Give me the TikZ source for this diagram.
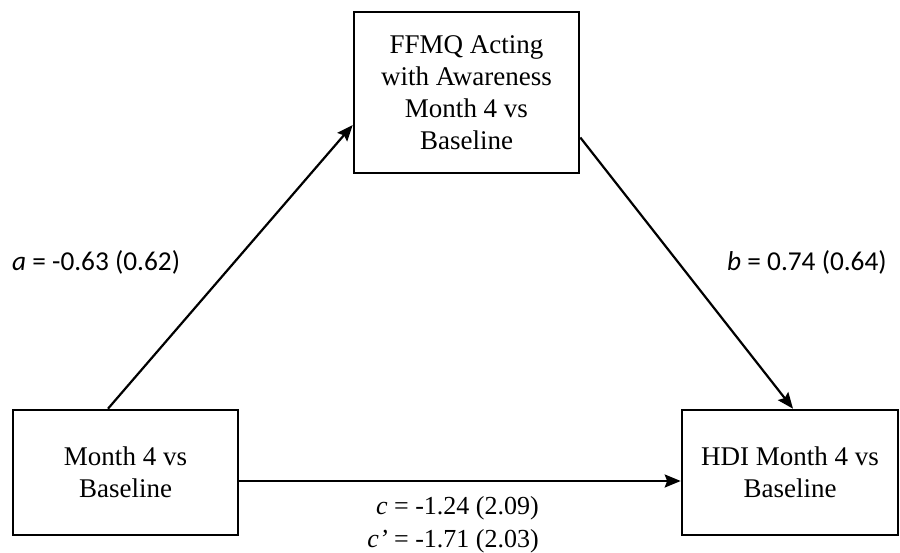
\documentclass[tikz,border=0pt]{standalone}
\usepackage{fontspec}
\setmainfont{Liberation Serif}
\newfontfamily\calib{Carlito}
\usetikzlibrary{arrows.meta}
\begin{document}
\begin{tikzpicture}[x=1pt,y=-1pt,
  varbox/.style={draw=black, line width=2.6pt, rectangle, align=center,
    inner sep=0pt, font=\fontsize{27}{32}\selectfont},
  path/.style={line width=2.2pt, -{Stealth[length=16pt,width=13pt,inset=2.5pt]}},
  coef/.style={font=\calib\fontsize{27.3}{30}\selectfont, inner sep=0pt},
  coefs/.style={font=\fontsize{26}{33}\selectfont, inner sep=0pt, align=right}]
  \useasboundingbox[fill=white] (0,0) rectangle (900,552);

  % variable boxes
  \node[varbox, minimum width=225pt, minimum height=161pt] (med) at (466.5,92.5)
    {FFMQ Acting\\with Awareness\\Month 4 vs\\Baseline};
  \node[varbox, minimum width=225pt, minimum height=125pt] (pred) at (125.5,472.5)
    {Month 4 vs\\Baseline};
  \node[varbox, minimum width=216pt, minimum height=125pt] (out) at (790,472.5)
    {HDI Month 4 vs\\Baseline};

  % paths
  \draw[path] ([xshift=-17.5pt]pred.north) -- ([yshift=-32.5pt]med.west);
  \draw[path] ([yshift=-45pt]med.east) -- ([xshift=3pt]out.north);
  \draw[path] ([yshift=-8.5pt]pred.east) -- ([yshift=-8.5pt]out.west);

  % coefficients
  \node[coef, anchor=west] (alab) at (12,262) {\textit{a} = -0.63 (0.62)};
  \node[coef, anchor=west] (blab) at (727,262) {\textit{b} = 0.74 (0.64)};
  \node[coefs, anchor=north east] (clab) at (539,496)
    {\textit{c} = -1.24 (2.09)\\\textit{c’} = -1.71 (2.03)};
\end{tikzpicture}
\end{document}
